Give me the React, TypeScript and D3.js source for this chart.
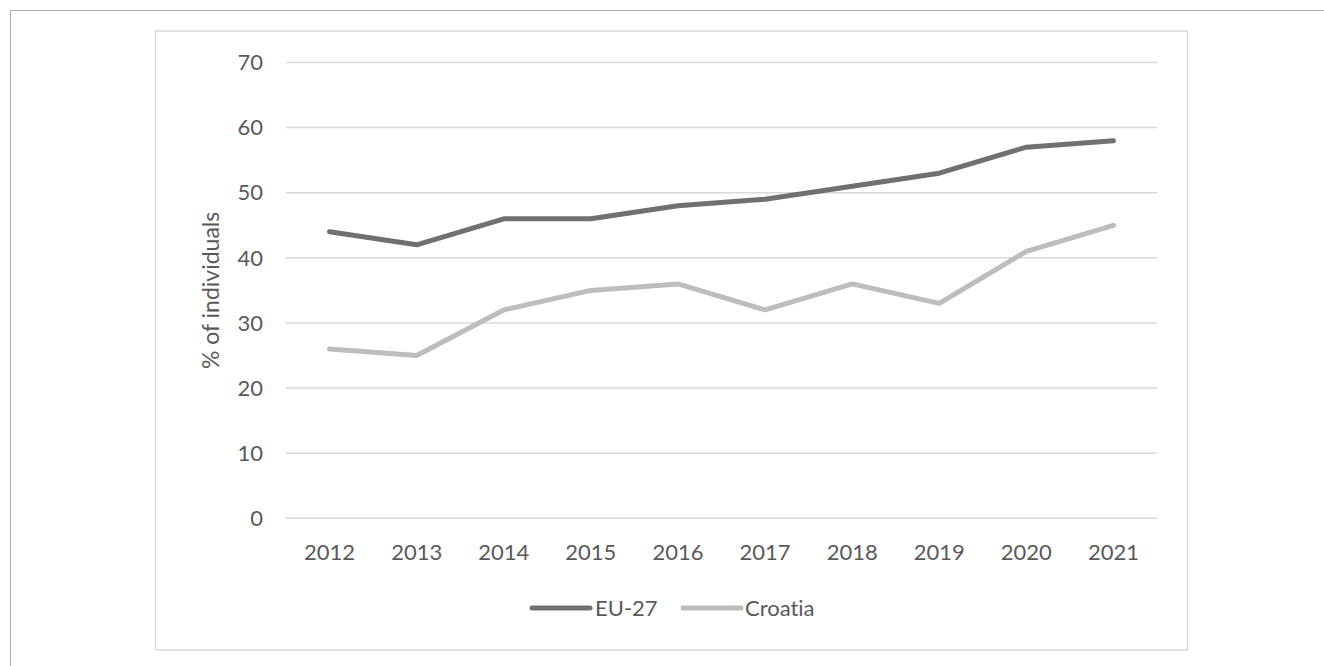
import React from "react";
import * as d3 from "d3";

const years = ["2012", "2013", "2014", "2015", "2016", "2017", "2018", "2019", "2020", "2021"];
const eu27 = [44, 42, 46, 46, 48, 49, 51, 53, 57, 58];
const croatia = [26, 25, 32, 35, 36, 32, 36, 33, 41, 45];
const yTicks = [0, 10, 20, 30, 40, 50, 60, 70];
const seriesNames = ["EU-27", "Croatia"];
const seriesColors = ["#707070", "#BDBDBD"];

const W = 1324;
const H = 666;
const plotLeft = 286;
const plotRight = 1157;
const plotTop = 62.5;
const plotBottom = 518.3;
const font = "Lato, 'Open Sans', sans-serif";
const textColor = "#595959";
const txtStyle = { fontVariantLigatures: "none" as const };

export default function App() {
  const x = d3.scaleBand<string>().domain(years).range([plotLeft, plotRight]);
  const y = d3.scaleLinear().domain([0, 70]).range([plotBottom, plotTop]);
  const line = d3
    .line<number>()
    .x((_, i) => (x(years[i]) as number) + x.bandwidth() / 2)
    .y((d) => y(d));
  const data = [eu27, croatia];

  const legendItems = [
    { lx: 532, tx: 595 },
    { lx: 683, tx: 745 },
  ];

  return (
    <svg
      width={W}
      height={H}
      style={{ position: "fixed", left: 0, top: 0, background: "#fff" }}
    >
      <rect x={0} y={0} width={W} height={H} fill="#fff" />
      {/* outer frame */}
      <path d={`M10.5,${H} L10.5,10.5 L${W},10.5`} fill="none" stroke="#ABABAB" strokeWidth={1} />
      {/* chart area frame */}
      <rect x={155.5} y={31} width={1032} height={619} fill="#fff" stroke="#D9D9D9" strokeWidth={1.5} />
      {/* gridlines */}
      {yTicks.map((t) => (
        <line key={t} x1={plotLeft} x2={plotRight} y1={y(t)} y2={y(t)} stroke="#D9D9D9" strokeWidth={1.5} />
      ))}
      {/* y tick labels */}
      {yTicks.map((t) => (
        <text
          key={"l" + t}
          x={263}
          y={y(t)}
          dy="0.35em"
          textAnchor="end"
          fontFamily={font}
          fontSize={22}
          fill={textColor}
          style={txtStyle}
        >
          {t}
        </text>
      ))}
      {/* x tick labels */}
      {years.map((yr) => (
        <text
          key={yr}
          x={(x(yr) as number) + x.bandwidth() / 2}
          y={552}
          dy="0.35em"
          textAnchor="middle"
          fontFamily={font}
          fontSize={22}
          fill={textColor}
          style={txtStyle}
        >
          {yr}
        </text>
      ))}
      {/* y axis title */}
      <text
        transform={`translate(211, ${(plotTop + plotBottom) / 2}) rotate(-90)`}
        dy="0.35em"
        textAnchor="middle"
        fontFamily={font}
        fontSize={23}
        fill={textColor}
        style={txtStyle}
      >
        % of individuals
      </text>
      {/* series lines */}
      {data.map((s, i) => (
        <path
          key={seriesNames[i]}
          d={line(s) || ""}
          fill="none"
          stroke={seriesColors[i]}
          strokeWidth={5}
          strokeLinecap="round"
          strokeLinejoin="round"
        />
      ))}
      {/* legend */}
      {seriesNames.map((n, i) => (
        <g key={"lg" + n}>
          <line
            x1={legendItems[i].lx}
            x2={legendItems[i].lx + 58}
            y1={608}
            y2={608}
            stroke={seriesColors[i]}
            strokeWidth={5}
            strokeLinecap="round"
          />
          <text
            x={legendItems[i].tx}
            y={608}
            dy="0.35em"
            fontFamily={font}
            fontSize={22}
            fill={textColor}
            style={txtStyle}
          >
            {n}
          </text>
        </g>
      ))}
    </svg>
  );
}
